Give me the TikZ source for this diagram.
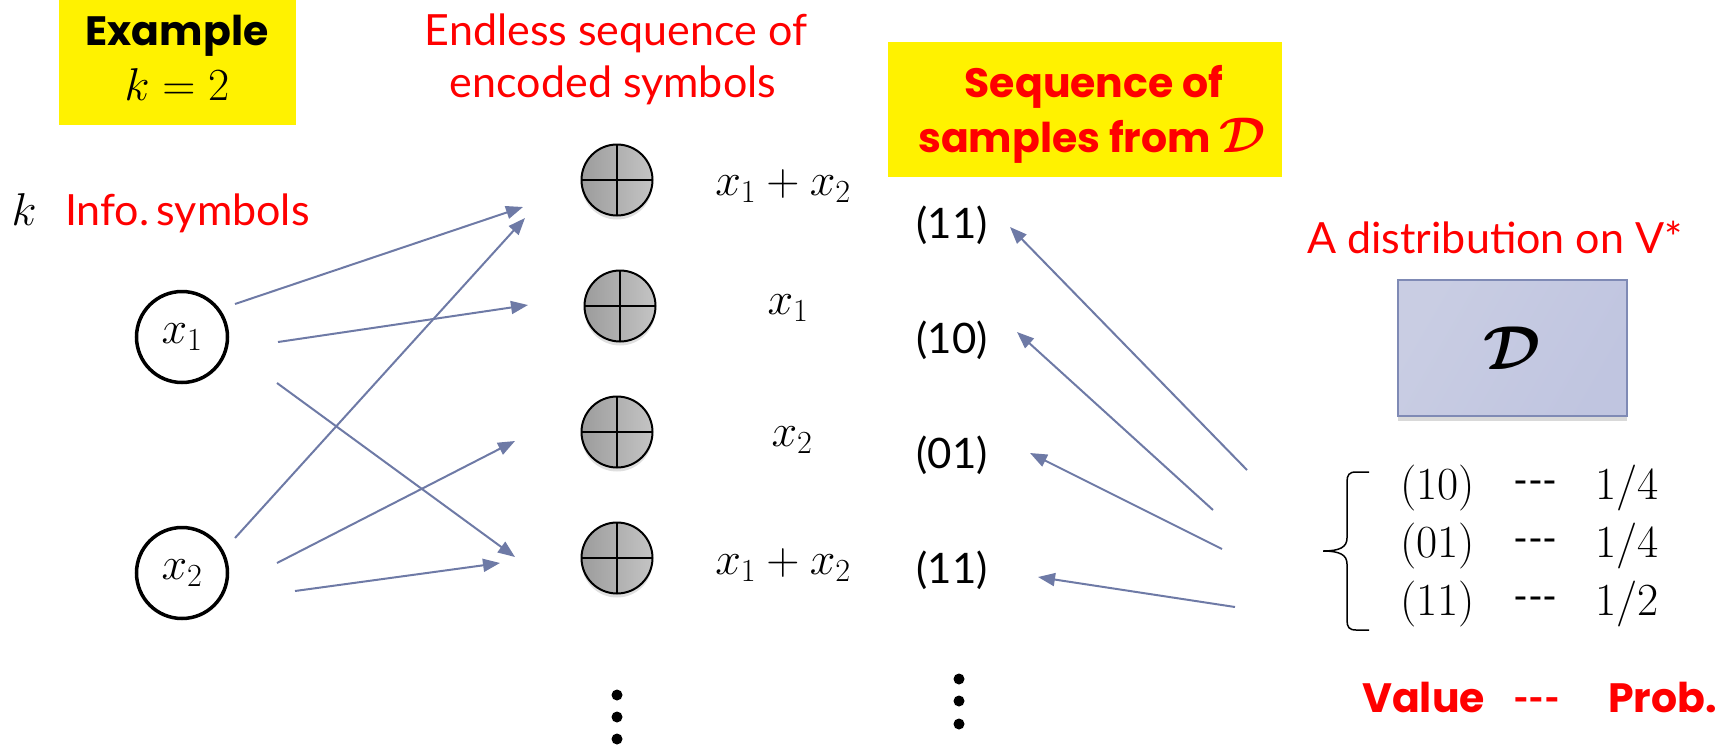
\RequirePackage{fix-cm}
\documentclass[tikz,border=0pt]{standalone}
\usepackage{amsmath}
\usepackage{fontspec}
\newfontfamily\gill{Lato}
\newfontfamily\gillb{Poppins}
\usetikzlibrary{arrows.meta,shadows}
\definecolor{arr}{HTML}{6E7AA6}
\definecolor{dbord}{HTML}{7F8AB5}
\definecolor{dA}{HTML}{C9CDE3}
\definecolor{dB}{HTML}{A6AED3}
\definecolor{dC}{HTML}{C0C5E0}
\definecolor{xorA}{HTML}{9C9C9C}
\definecolor{xorB}{HTML}{C4C4C4}
\begin{document}
\begin{tikzpicture}[x=1pt,y=-1pt,
  txt/.style={font=\gill\fontsize{42}{48}\selectfont, inner sep=0pt},
  redtxt/.style={font=\gill\fontsize{43}{48}\selectfont, inner sep=0pt, text=red},
  boldtxt/.style={font=\gillb\bfseries\fontsize{41}{48}\selectfont, inner sep=0pt},
  boldred/.style={boldtxt, text=red},
  mtxt/.style={font=\fontsize{46}{50}\selectfont, inner sep=0pt},
  tab/.style={font=\fontsize{46}{50}\selectfont, inner sep=0pt},
  tabdash/.style={font=\gill\fontsize{40}{48}\selectfont, inner sep=0pt},
  inp/.style={draw, circle, line width=3.5pt, minimum size=91pt, inner sep=0pt, font=\fontsize{46}{50}\selectfont},
  xor/.style={circle, draw, line width=2pt, minimum size=71pt, inner sep=0pt,
    left color=xorA, right color=xorB,
    drop shadow={shadow xshift=0pt, shadow yshift=-4pt, opacity=0.25},
    path picture={\draw[line width=2pt] (path picture bounding box.north) -- (path picture bounding box.south)
      (path picture bounding box.west) -- (path picture bounding box.east);}},
  conn/.style={draw=arr, line width=2pt, -{Triangle[length=17pt,width=13pt]}},
  dot/.style={circle, fill=black, inner sep=0pt, minimum size=11pt}
]
\useasboundingbox (0,0) rectangle (1727,745);

% Example box
\node[fill=yellow, minimum width=237pt, minimum height=125pt, inner sep=0pt] (exbox) at (177.5,62.5) {};
\node[boldtxt, anchor=base] (extitle) at (177,45) {Example};
\node[mtxt, anchor=base] (exk) at (177,100) {$k=2$};

% k Info symbols
\node[mtxt, anchor=base] (kk) at (24,225) {$k$};
\node[redtxt, anchor=base west] (info) at (65,225) {Info.\,symbols};

% Endless sequence
\node[redtxt, anchor=base] (end1) at (616,45) {Endless sequence of};
\node[redtxt, anchor=base] (end2) at (613,97) {encoded symbols};

% Sequence of samples box
\node[fill=yellow, minimum width=394pt, minimum height=135pt, inner sep=0pt] (sbox) at (1085,109.5) {};
\node[boldred, anchor=base] (seq1) at (1094,97) {Sequence of};
\node[boldred, anchor=base] (seq2) at (1092,152) {samples from {\fontsize{50}{50}\selectfont$\boldsymbol{\mathcal{D}}$}};

% input circles
\node[inp] (x1) at (182,337) {$x_1$};
\node[inp] (x2) at (182,573) {$x_2$};

% xor nodes
\node[xor] (c1) at (617,180) {};
\node[xor] (c2) at (620,306) {};
\node[xor] (c3) at (617,432) {};
\node[xor] (c4) at (617,558) {};

% labels
\node[mtxt] (l1) at (783,186) {$x_1+x_2$};
\node[mtxt] (l2) at (788,308) {$x_1$};
\node[mtxt] (l3) at (792,440) {$x_2$};
\node[mtxt] (l4) at (783,565) {$x_1+x_2$};

% samples
\node[txt] (s1) at (952,225) {(11)};
\node[txt] (s2) at (952,340) {(10)};
\node[txt] (s3) at (952,455) {(01)};
\node[txt] (s4) at (952,570) {(11)};

% distribution
\node[redtxt, anchor=base] (dist) at (1495,253) {A distribution on V*};
\node[draw=dbord, line width=1.5pt, minimum width=229pt, minimum height=136pt, inner sep=0pt,
  left color=dA, middle color=dB, right color=dC, shading angle=60,
  drop shadow={shadow xshift=0pt, shadow yshift=-5pt, opacity=0.3},
  font=\fontsize{62}{64}\selectfont] (D) at (1512.5,348) {$\boldsymbol{\mathcal{D}}$};

% table
\node[tab, anchor=west] (r1a) at (1400,488) {(10)};
\node[tabdash, anchor=west] (r1b) at (1513,488) {-{}-{}-};
\node[tab, anchor=west] (r1c) at (1595,488) {1/4};
\node[tab, anchor=west] (r2a) at (1400,546) {(01)};
\node[tabdash, anchor=west] (r2b) at (1513,546) {-{}-{}-};
\node[tab, anchor=west] (r2c) at (1595,546) {1/4};
\node[tab, anchor=west] (r3a) at (1400,604) {(11)};
\node[tabdash, anchor=west] (r3b) at (1513,604) {-{}-{}-};
\node[tab, anchor=west] (r3c) at (1595,604) {1/2};

% brace
\draw[line width=1.5pt] (1369,472) -- (1356,472) .. controls (1349,472) and (1347,475) .. (1347,482)
  -- (1347,538) .. controls (1347,547) and (1340,551) .. (1323,551)
  .. controls (1340,551) and (1347,555) .. (1347,564)
  -- (1347,620) .. controls (1347,627) and (1349,630) .. (1356,630) -- (1369,630);

% Value --- Prob.
\node[boldred, anchor=base west] (val) at (1362,712) {Value};
\node[boldred, font=\gill\bfseries\fontsize{42}{48}\selectfont, anchor=base west] (vd) at (1513,712) {-{}-{}-};
\node[boldred, anchor=base east] (prob) at (1717,712) {Prob.};

% dots
\node[dot] (d1) at (617,695) {};
\node[dot] (d2) at (617,717) {};
\node[dot] (d3) at (617,739) {};
\node[dot] (e1) at (959,679) {};
\node[dot] (e2) at (959,701) {};
\node[dot] (e3) at (959,724) {};

% arrow endpoints
\coordinate (a1s) at (235,304); \coordinate (a1e) at (523,207);
\coordinate (a2s) at (278,342); \coordinate (a2e) at (528,305);
\coordinate (a3s) at (277,383); \coordinate (a3e) at (515,557);
\coordinate (a4s) at (235,538); \coordinate (a4e) at (525,218);
\coordinate (a5s) at (277,563); \coordinate (a5e) at (515,441);
\coordinate (a6s) at (295,591); \coordinate (a6e) at (500,563);
\coordinate (b1s) at (1247,470); \coordinate (b1e) at (1010,227);
\coordinate (b2s) at (1213,510); \coordinate (b2e) at (1017,332);
\coordinate (b3s) at (1222,549); \coordinate (b3e) at (1030,453);
\coordinate (b4s) at (1235,607); \coordinate (b4e) at (1038,577);

\draw[conn] (a1s) -- (a1e);
\draw[conn] (a2s) -- (a2e);
\draw[conn] (a3s) -- (a3e);
\draw[conn] (a4s) -- (a4e);
\draw[conn] (a5s) -- (a5e);
\draw[conn] (a6s) -- (a6e);
\draw[conn] (b1s) -- (b1e);
\draw[conn] (b2s) -- (b2e);
\draw[conn] (b3s) -- (b3e);
\draw[conn] (b4s) -- (b4e);
\end{tikzpicture}
\end{document}
